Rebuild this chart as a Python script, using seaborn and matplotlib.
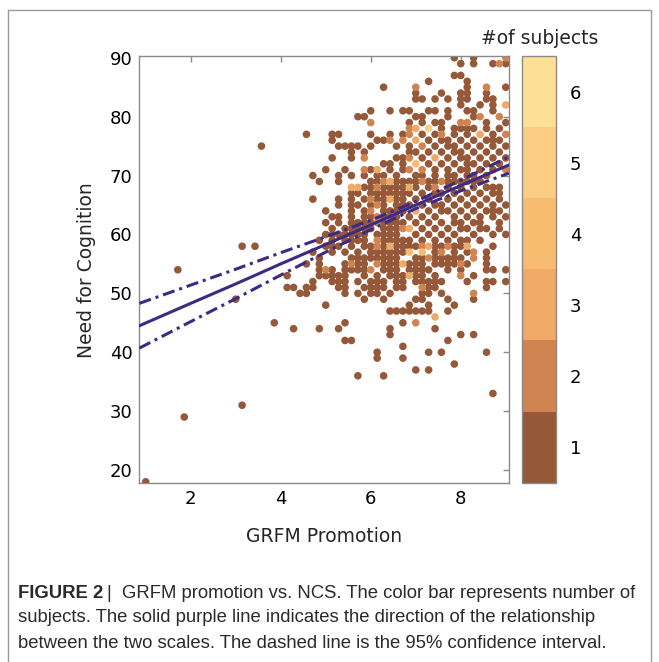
import numpy as np
import pandas as pd
import matplotlib
matplotlib.use("Agg")
import matplotlib.pyplot as plt
import seaborn as sns
from matplotlib.colors import ListedColormap, BoundaryNorm
from matplotlib.cm import ScalarMappable

# ---------------- data ----------------
# NCS score of each row of points
ncs_levels = [90, 89, 87, 86, 85, 84, 83, 82, 81, 80, 79, 78, 77, 76, 75, 74, 73, 72,
              71, 70, 69, 68, 67, 66, 65, 64, 63, 62, 61, 60, 59, 58, 57, 56, 55, 54,
              53, 52, 51, 50, 49, 48, 47, 46, 45, 44, 43, 42, 41, 40, 39, 38, 37, 36,
              33, 31, 29, 18]
# GRFM promotion of the points in each row, in sevenths (x = k / 7)
grfm_sevenths = [
    [55, 58, 63],
    [56, 58, 61, 62, 63],
    [55, 56],
    [51, 57],
    [44, 49, 57, 60, 63],
    [49, 53, 56, 57, 60],
    [49, 50, 52, 54, 56, 57, 60, 61],
    [56, 59, 61, 63],
    [42, 45, 47, 48, 51, 52, 54, 57, 58, 61],
    [40, 41, 49, 50, 54, 58, 59, 62],
    [42, 48, 50, 52, 53, 56, 57, 60, 63],
    [48, 49, 51, 53, 55, 56, 57, 58, 60, 62],
    [32, 36, 37, 42, 45, 47, 48, 50, 52, 53, 55, 57, 59, 61, 63],
    [36, 43, 44, 45, 47, 49, 51, 53, 54, 56, 58, 60, 61, 62],
    [25, 37, 38, 39, 40, 42, 46, 48, 50, 52, 54, 55, 57, 59, 61, 63],
    [39, 41, 48, 49, 51, 53, 55, 56, 58, 60, 62],
    [36, 39, 41, 46, 47, 48, 50, 52, 54, 56, 57, 59, 61, 63],
    [44, 45, 47, 49, 51, 53, 55, 57, 58, 60, 62],
    [35, 38, 41, 42, 43, 45, 47, 48, 50, 52, 54, 56, 57, 59, 61, 63],
    [33, 37, 39, 41, 43, 44, 46, 49, 50, 52, 54, 55, 57, 58, 60],
    [34, 37, 42, 43, 44, 45, 46, 47, 48, 49, 50, 51, 52, 53, 54, 55, 56, 57, 58, 59],
    [39, 40, 41, 42, 43, 44, 45, 46, 47, 48, 49, 51, 52, 54, 56, 58, 60, 61, 62],
    [39, 40, 42, 43, 44, 45, 46, 47, 48, 50, 52, 53, 55, 57, 59, 61, 62],
    [33, 37, 39, 41, 42, 43, 44, 45, 46, 47, 49, 51, 54, 56, 58, 60, 62],
    [37, 39, 40, 42, 43, 44, 46, 47, 48, 50, 52, 53, 55, 57, 59, 61, 63],
    [35, 39, 41, 42, 44, 45, 46, 47, 49, 51, 53, 54, 56, 58, 60, 61, 62],
    [36, 37, 39, 41, 42, 43, 44, 45, 46, 48, 50, 52, 55, 57, 59, 61, 63],
    [35, 37, 39, 40, 41, 42, 43, 44, 45, 46, 47, 49, 51, 53, 55, 56, 58, 59, 62],
    [36, 38, 39, 40, 41, 42, 44, 45, 46, 47, 48, 50, 52, 54, 56, 57, 59, 60, 62],
    [35, 36, 37, 38, 39, 40, 41, 43, 44, 45, 46, 49, 51, 53, 55, 58, 61, 63],
    [34, 36, 38, 39, 40, 41, 43, 44, 45, 46, 47, 48, 50, 52, 54, 56, 57, 59],
    [22, 24, 35, 36, 37, 39, 41, 42, 43, 44, 45, 46, 47, 48, 49, 50, 51, 52, 53, 54,
     55, 56, 57, 61],
    [33, 36, 38, 40, 42, 43, 44, 45, 46, 47, 48, 50, 52, 53, 55, 57, 58, 60],
    [34, 39, 40, 41, 42, 43, 44, 45, 46, 49, 50, 51, 52, 53, 54, 55, 56, 58, 60],
    [32, 34, 38, 39, 40, 41, 43, 44, 45, 46, 47, 48, 49, 50, 52, 53, 54, 55, 56, 57, 60],
    [12, 34, 35, 36, 38, 39, 40, 41, 42, 44, 45, 46, 48, 49, 50, 51, 54, 56, 60, 61, 63],
    [29, 34, 35, 36, 37, 38, 41, 43, 45, 46, 47, 48, 49, 50, 52, 56, 58],
    [33, 36, 37, 38, 40, 42, 43, 44, 46, 47, 49, 50, 51, 52, 53, 57, 60, 61, 63],
    [29, 30, 32, 33, 37, 38, 41, 42, 43, 44, 46, 47, 50, 51, 52, 60],
    [31, 32, 38, 40, 42, 43, 45, 50, 51, 53, 58],
    [21, 41, 44, 49, 50, 54, 58],
    [35, 48, 51, 55],
    [45, 46, 47, 48, 49, 50, 51, 54],
    [52],
    [27, 38, 47, 49],
    [30, 34, 37, 45, 52],
    [45, 56, 58],
    [38, 39, 54],
    [47],
    [43, 51, 53, 60],
    [43, 47],
    [55],
    [49, 51],
    [40, 44],
    [61],
    [22],
    [13],
    [7],
]
# points that stand for more than one subject: (sevenths, NCS, number of subjects)
multi_subject_points = [
    (63, 90, 2), (62, 89, 2), (49, 85, 2), (60, 85, 2), (63, 82, 3),
    (59, 80, 2), (62, 80, 2), (42, 79, 2), (56, 79, 2), (57, 79, 2),
    (48, 78, 2), (49, 78, 3), (51, 78, 5), (48, 77, 2), (53, 77, 2), (59, 77, 3),
    (63, 77, 2), (45, 76, 2), (47, 76, 2), (49, 76, 3), (50, 75, 2), (41, 73, 2),
    (48, 73, 2), (52, 73, 3), (49, 72, 4), (41, 71, 2), (43, 71, 3), (48, 71, 2),
    (50, 71, 2), (63, 71, 2), (44, 69, 2), (45, 69, 3), (50, 69, 2), (53, 69, 2),
    (39, 68, 3), (40, 68, 3), (43, 68, 2), (48, 68, 3), (52, 68, 2), (42, 66, 2),
    (45, 66, 3), (43, 65, 2), (42, 64, 2), (49, 64, 3), (43, 63, 2), (43, 62, 2),
    (47, 61, 2), (48, 61, 3), (43, 59, 2), (43, 58, 2), (45, 58, 3), (50, 58, 2),
    (51, 58, 3), (54, 58, 2), (57, 58, 3), (48, 57, 4), (50, 57, 4), (53, 57, 2),
    (58, 57, 2), (51, 56, 2), (58, 56, 2), (39, 55, 2), (43, 55, 2), (47, 55, 3),
    (56, 55, 2), (35, 54, 2), (42, 54, 2), (48, 53, 3), (56, 53, 2), (50, 51, 2),
    (58, 50, 2), (52, 46, 3), (49, 45, 2),
]
# least-squares line and its 95% confidence band
fit_x = [0.86, 2.0, 3.0, 4.0, 5.0, 6.0, 7.0, 8.0, 9.07]
fit_y = [44.5, 48.3, 51.6, 55.0, 58.3, 61.6, 65.0, 68.3, 71.8]
ci_upper = [48.3, 51.4, 54.1, 56.9, 59.6, 62.4, 65.6, 69.2, 73.2]
ci_lower = [40.7, 45.2, 49.1, 53.1, 57.0, 60.8, 64.4, 67.4, 70.4]

count_levels = [1, 2, 3, 4, 5, 6]
count_colors = ["#955839", "#cf8452", "#eeaa66", "#f8bc71", "#fbcd84", "#fde096"]
x_ticks = [2, 4, 6, 8]
y_ticks = [20, 30, 40, 50, 60, 70, 80, 90]

caption_lines = [
    "GRFM promotion vs. NCS. The color bar represents number of",
    "subjects. The solid purple line indicates the direction of the relationship",
    "between the two scales. The dashed line is the 95% confidence interval.",
]

# ---------------- build table ----------------
recs = {}
for y, ks in zip(ncs_levels, grfm_sevenths):
    for k in ks:
        recs[(k, y)] = 1
for k, y, c in multi_subject_points:
    recs[(k, y)] = c
df = pd.DataFrame([(k / 7.0, y, c) for (k, y), c in recs.items()],
                  columns=["grfm", "ncs", "n"]).sort_values("n")

# ---------------- figure ----------------
W, H = 659, 662
sns.set_style("white")
plt.rcParams["font.family"] = ["DejaVu Sans"]
fig = plt.figure(figsize=(W / 100, H / 100), dpi=100)

def fx(px):
    return px / W

def fy(py):
    return 1 - py / H

ax = fig.add_axes([fx(139.3), fy(482.7), fx(508.7) - fx(139.3), fy(56) - fy(482.7)])
palette = {lv: col for lv, col in zip(count_levels, count_colors)}
sns.scatterplot(data=df, x="grfm", y="ncs", hue="n", palette=palette, s=30,
                linewidth=0, legend=False, ax=ax, zorder=2)
line_col = "#3d2a84"
sns.lineplot(x=fit_x, y=fit_y, color=line_col, lw=2.2, ax=ax, zorder=4)
ax.plot(fit_x, ci_upper, color=line_col, lw=2.2, ls=(0, (4, 1.6, 1, 1.6)), zorder=4)
ax.plot(fit_x, ci_lower, color=line_col, lw=2.2, ls=(0, (4, 1.6, 1, 1.6)), zorder=4)

ax.set_xlim(0.858, 9.065)
ax.set_ylim(17.85, 90.3)
ax.set_xticks(x_ticks)
ax.set_yticks(y_ticks)
ax.set_xlabel("")
ax.set_ylabel("")
axis_gray = "#8a8a8a"
for sp in ax.spines.values():
    sp.set_color(axis_gray)
    sp.set_linewidth(1.0)
    sp.set_visible(True)
ax.tick_params(direction="in", length=4, width=1, color=axis_gray, labelsize=13,
               labelcolor="black", top=True, right=True, pad=5)

# colorbar
cax = fig.add_axes([fx(522.3), fy(482.7), fx(555.7) - fx(522.3), fy(56) - fy(482.7)])
cmap = ListedColormap(count_colors)
norm = BoundaryNorm(np.arange(0.5, 7.0, 1.0), cmap.N)
cb = fig.colorbar(ScalarMappable(norm=norm, cmap=cmap), cax=cax, ticks=count_levels)
cb.outline.set_edgecolor(axis_gray)
cb.outline.set_linewidth(1.0)
cb.ax.minorticks_off()
cb.ax.yaxis.set_tick_params(which="both", direction="in", length=4, width=1,
                            color="#7a7a7a", labelsize=13, labelcolor="black", pad=10)
fig.text(fx(540), fy(39), "#of subjects", ha="center", va="center", fontsize=13.5)

# axis labels
fig.text(fx(324), fy(536), "GRFM Promotion", ha="center", va="center", fontsize=13.5)
fig.text(fx(86), fy(270), "Need for Cognition", ha="center", va="center",
         rotation=90, fontsize=13.5)

# frame round the figure
fig.add_artist(plt.Line2D([fx(8), fx(8)], [0, fy(10)], color="#9a9a9a", lw=1))
fig.add_artist(plt.Line2D([fx(8), fx(651)], [fy(10), fy(10)], color="#9a9a9a", lw=1))
fig.add_artist(plt.Line2D([fx(651), fx(651)], [0, fy(10)], color="#9a9a9a", lw=1))

# caption
cap_font = ["Liberation Sans Narrow", "Liberation Sans", "DejaVu Sans"]
cap_size = 13.3
cap_col = "#2a2a2a"
t = fig.text(fx(18), fy(593), "FIGURE 2", ha="left", va="center", fontsize=cap_size,
             fontweight="bold", family=cap_font, color=cap_col)
fig.canvas.draw()
bb = t.get_window_extent()
fig.text((bb.x1 + 4) / W, fy(593), "|  " + caption_lines[0], ha="left", va="center",
         fontsize=cap_size, family=cap_font, color=cap_col)
fig.text(fx(18), fy(618), caption_lines[1], ha="left", va="center", fontsize=cap_size,
         family=cap_font, color=cap_col)
fig.text(fx(18), fy(643), caption_lines[2], ha="left", va="center", fontsize=cap_size,
         family=cap_font, color=cap_col)

fig.savefig("out.png", dpi=100)
